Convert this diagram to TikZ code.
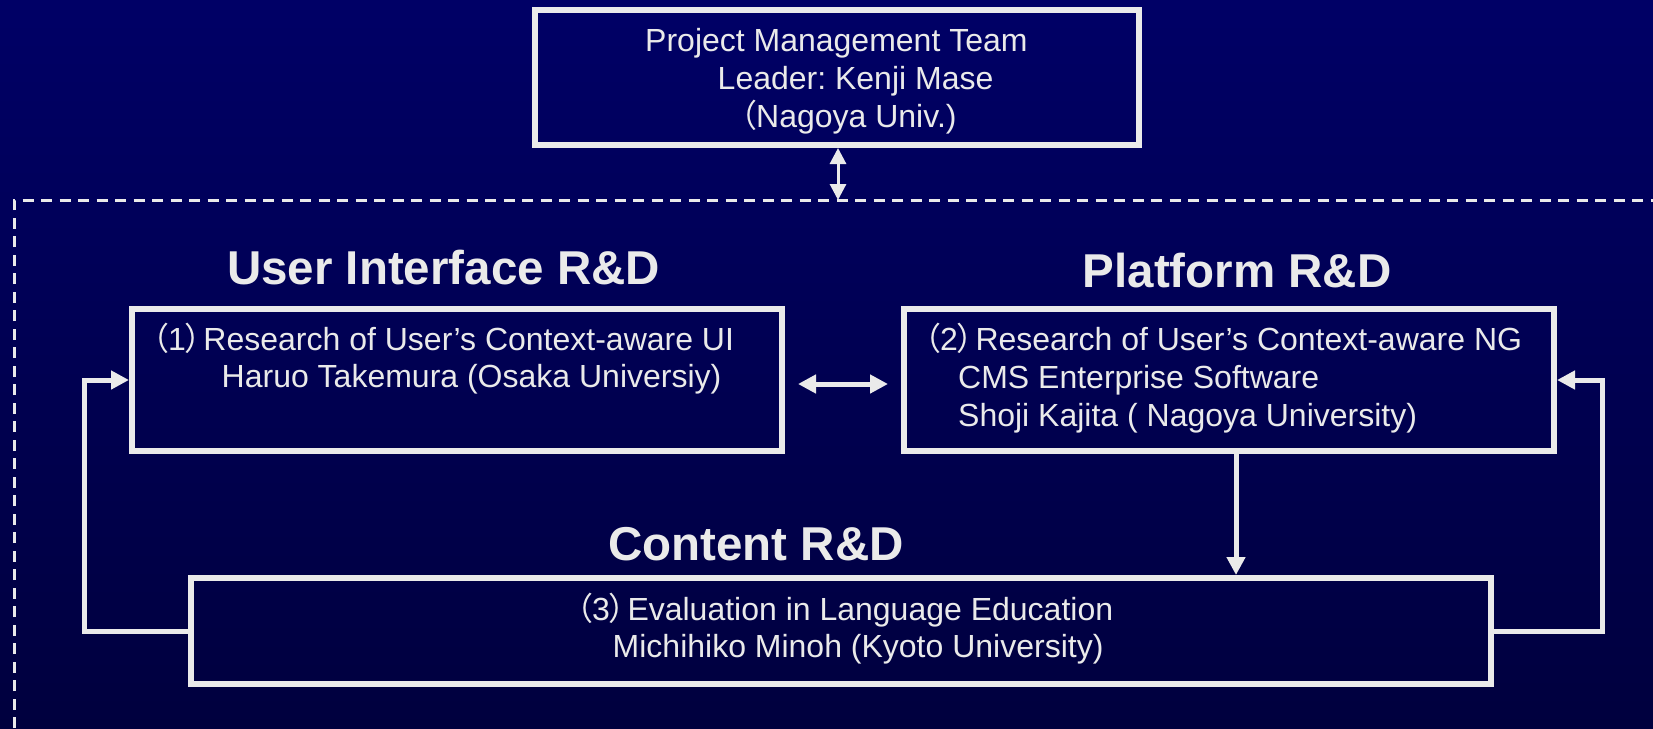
\documentclass[tikz,border=0pt]{standalone}
\usepackage{fontspec}
\setmainfont{Liberation Sans}
\newfontfamily\cjk[RawFeature=+palt]{Noto Sans CJK JP}
\usetikzlibrary{arrows.meta}
\definecolor{fg}{RGB}{234,234,234}
\definecolor{bgtop}{RGB}{0,0,102}
\definecolor{bgbot}{RGB}{0,0,62}
\newcommand{\lp}{{\cjk （}}
\newcommand{\rp}{{\cjk ）}\kern1.5pt}
\frenchspacing
\begin{document}
\begin{tikzpicture}[x=1pt,y=-1pt,
  box/.style={draw=fg,line width=6pt,rectangle,inner sep=0pt},
  txt/.style={anchor=base west,inner sep=0pt,text=fg,font=\fontsize{32}{38}\selectfont},
  head/.style={anchor=base west,inner sep=0pt,text=fg,font=\fontsize{47.5}{57}\selectfont\bfseries},
  conn/.style={draw=fg,line width=5pt,line join=miter,-{Triangle[length=18pt,width=18pt]}},
  dconn/.style={draw=fg,line width=5pt,{Triangle[length=18pt,width=18pt]}-{Triangle[length=18pt,width=18pt]}},
  tconn/.style={draw=fg,line width=3pt,{Triangle[length=16pt,width=16pt]}-{Triangle[length=16pt,width=16pt]}},
  dashline/.style={draw=fg,line width=3pt,dash pattern=on 11pt off 7.5pt}
]
\useasboundingbox (0,0) rectangle (1653,728);
\shade[top color=bgtop,bottom color=bgbot] (0,0) rectangle (1653,728);

% dashed frame
\coordinate (dtl) at (14,200);
\draw[dashline] (14,728) -- (dtl) -- (1653,200);

% boxes
\node[box,minimum width=604pt,minimum height=135.5pt] (top) at (837,77.25) {};
\node[box,minimum width=650pt,minimum height=142pt] (box1) at (457,380) {};
\node[box,minimum width=650pt,minimum height=142pt] (box2) at (1229,380) {};
\node[box,minimum width=1300pt,minimum height=106pt] (box3) at (841,631) {};

% texts
\node[txt] (t1) at (645,51) {Project Management Team};
\node[txt] (t2) at (717.5,89) {Leader: Kenji Mase};
\node[txt] (t3) at (740,127) {\lp Nagoya Univ.)};

\node[head] (h1) at (227,284) {User Interface R\&D};
\node[head] (h2) at (1082.5,287) {Platform R\&D};
\node[head] (h3) at (608,560) {Content R\&D};

\node[txt] (a1) at (152,350) {\lp 1\rp Research of User’s Context-aware UI};
\node[txt] (a2) at (221.5,387) {Haruo Takemura (Osaka Universiy)};

\node[txt] (b1) at (924,350) {\lp 2\rp Research of User’s Context-aware NG};
\node[txt] (b2) at (958,388) {CMS Enterprise Software};
\node[txt] (b3) at (958,426) {Shoji Kajita ( Nagoya University)};

\node[txt] (c1) at (576,620) {\lp 3\rp Evaluation in Language Education};
\node[txt] (c2) at (612.5,657) {Michihiko Minoh (Kyoto University)};

% connectors
\coordinate (dashc) at (838,200);
\draw[tconn] (top.south -| dashc) -- (dashc);

\draw[dconn,shorten <=13pt,shorten >=13pt] ([yshift=-4pt]box1.east) -- ([yshift=-4pt]box2.west);

\coordinate (dx) at (1236,520);
\draw[conn] (box2.south -| dx) -- (box3.north -| dx);

\coordinate (lx) at (84,500);
\draw[conn] (box3.west) -| (lx) |- (box1.west);

\coordinate (rx) at (1602,500);
\draw[conn] (box3.east) -| (rx) |- (box2.east);
\end{tikzpicture}
\end{document}
